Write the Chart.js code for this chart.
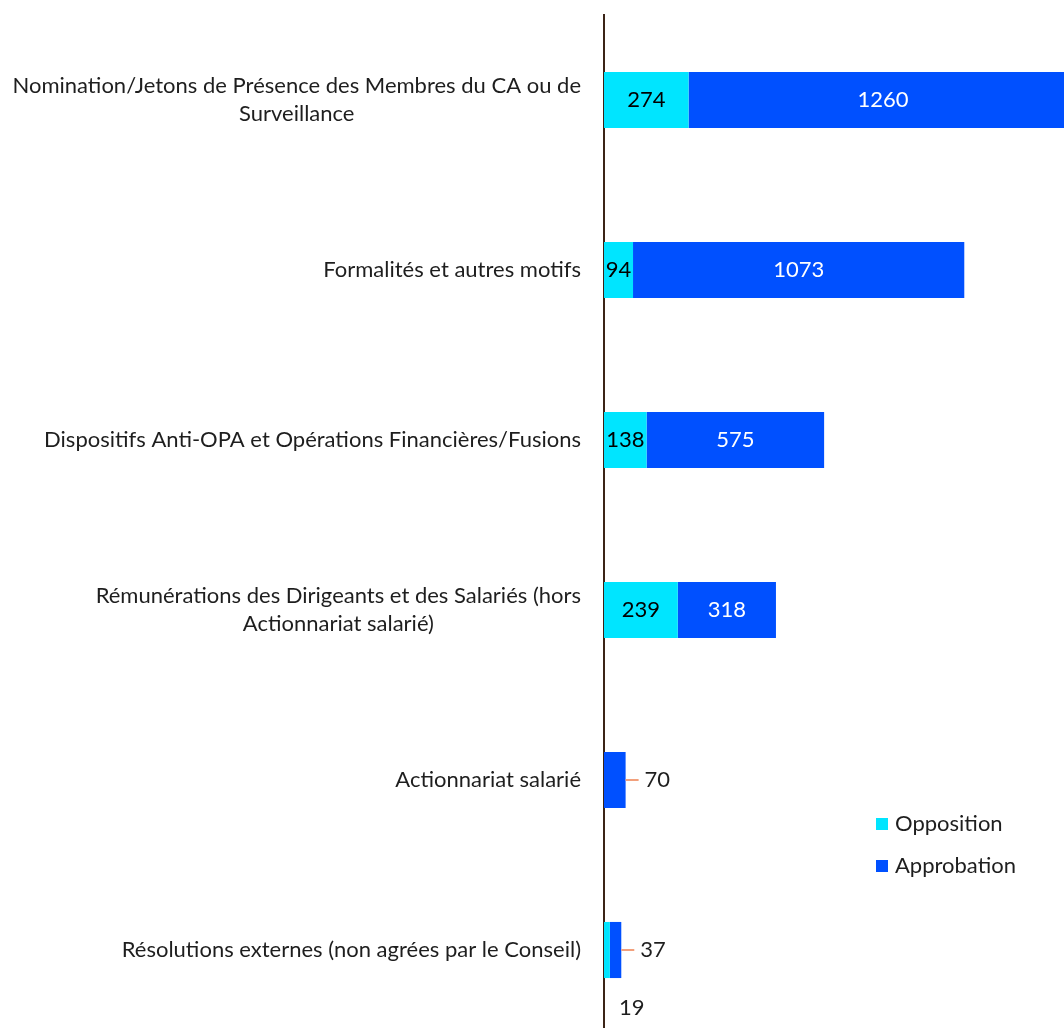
<!DOCTYPE html>
<html>
<head>
<meta charset="utf-8">
<script src="https://cdn.jsdelivr.net/npm/chart.js@4.4.1/dist/chart.umd.min.js"></script>
<style>
  html, body { margin: 0; padding: 0; background: #fff; overflow: hidden; }
  #wrap { width: 1064px; height: 1040px; }
</style>
</head>
<body>
<div id="wrap"><canvas id="voteChart" width="1064" height="1040"></canvas></div>
<script>
// catégories de résolutions
const categories = [
  ['Nomination/Jetons de Présence des Membres du CA ou de', 'Surveillance'],
  'Formalités et autres motifs',
  'Dispositifs Anti-OPA et Opérations Financières/Fusions',
  ['Rémunérations des Dirigeants et des Salariés (hors', 'Actionnariat salarié)'],
  'Actionnariat salarié',
  'Résolutions externes (non agrées par le Conseil)'
];
const opposition = [274, 94, 138, 239, 0, 19];
const approbation = [1260, 1073, 575, 318, 70, 37];

const FONT = 'Lato, "Open Sans", sans-serif';
const TEXT = '#1e1e1e';

// libellés des catégories : bloc aligné à droite, lignes centrées
const categoryLabels = {
  id: 'categoryLabels',
  afterDraw(chart) {
    const { ctx, scales: { y } } = chart;
    ctx.save();
    ctx.font = '22px ' + FONT;
    ctx.fillStyle = TEXT;
    ctx.textBaseline = 'middle';
    ctx.textAlign = 'center';
    categories.forEach((lab, i) => {
      const lines = Array.isArray(lab) ? lab : [lab];
      const w = Math.max(...lines.map(l => ctx.measureText(l).width));
      const cx = y.right - 23 - w / 2;
      const cy = y.getPixelForValue(i);
      lines.forEach((l, k) => {
        ctx.fillText(l, cx, cy + (k - (lines.length - 1) / 2) * 28);
      });
    });
    ctx.restore();
  }
};

// valeurs sur les barres
const valueLabels = {
  id: 'valueLabels',
  afterDatasetsDraw(chart) {
    const { ctx } = chart;
    ctx.save();
    ctx.font = '22px ' + FONT;
    ctx.textBaseline = 'middle';
    ctx.textAlign = 'center';
    chart.data.datasets.forEach((ds, di) => {
      chart.getDatasetMeta(di).data.forEach((bar, i) => {
        const v = ds.data[i];
        if (!v) return;
        const w = Math.abs(bar.x - bar.base);
        if (w >= 25) {
          ctx.fillStyle = di === 0 ? '#000' : '#fff';
          ctx.fillText(String(v), (bar.x + bar.base) / 2, bar.y);
        } else if (di === 1) {
          ctx.strokeStyle = '#F2A07C';
          ctx.lineWidth = 2;
          ctx.beginPath();
          ctx.moveTo(bar.x, bar.y);
          ctx.lineTo(bar.x + 13, bar.y);
          ctx.stroke();
          ctx.fillStyle = TEXT;
          ctx.textAlign = 'left';
          ctx.fillText(String(v), bar.x + 19, bar.y);
          ctx.textAlign = 'center';
        } else {
          ctx.fillStyle = TEXT;
          ctx.fillText(String(v), bar.x + 22, bar.y + 58);
        }
      });
    });
    ctx.restore();
  }
};

// légende placée dans la zone du graphique
const sideLegend = {
  id: 'sideLegend',
  afterDraw(chart) {
    const { ctx } = chart;
    ctx.save();
    ctx.font = '22px ' + FONT;
    ctx.textBaseline = 'middle';
    ctx.textAlign = 'left';
    chart.data.datasets.forEach((ds, i) => {
      const yy = 824 + i * 42;
      ctx.fillStyle = ds.backgroundColor;
      ctx.fillRect(876, yy - 6, 12, 12);
      ctx.fillStyle = TEXT;
      ctx.fillText(ds.label, 895, yy);
    });
    ctx.restore();
  }
};

new Chart(document.getElementById('voteChart'), {
  type: 'bar',
  data: {
    labels: categories,
    datasets: [
      { label: 'Opposition', data: opposition, backgroundColor: '#00E5FF' },
      { label: 'Approbation', data: approbation, backgroundColor: '#0050FF' }
    ]
  },
  options: {
    indexAxis: 'y',
    responsive: false,
    animation: false,
    layout: { padding: { top: 15, right: 0, bottom: 5, left: 0 } },
    datasets: { bar: { categoryPercentage: 1, barPercentage: 0.33, borderWidth: 0 } },
    plugins: { legend: { display: false }, tooltip: { enabled: false } },
    scales: {
      x: { stacked: true, min: 0, max: 1490, display: false },
      y: {
        stacked: true,
        grid: { display: false },
        ticks: { display: false },
        border: { display: true, color: '#3B2417', width: 2 },
        afterFit(scale) { scale.width = 604; }
      }
    }
  },
  plugins: [categoryLabels, valueLabels, sideLegend]
});
</script>
</body>
</html>
